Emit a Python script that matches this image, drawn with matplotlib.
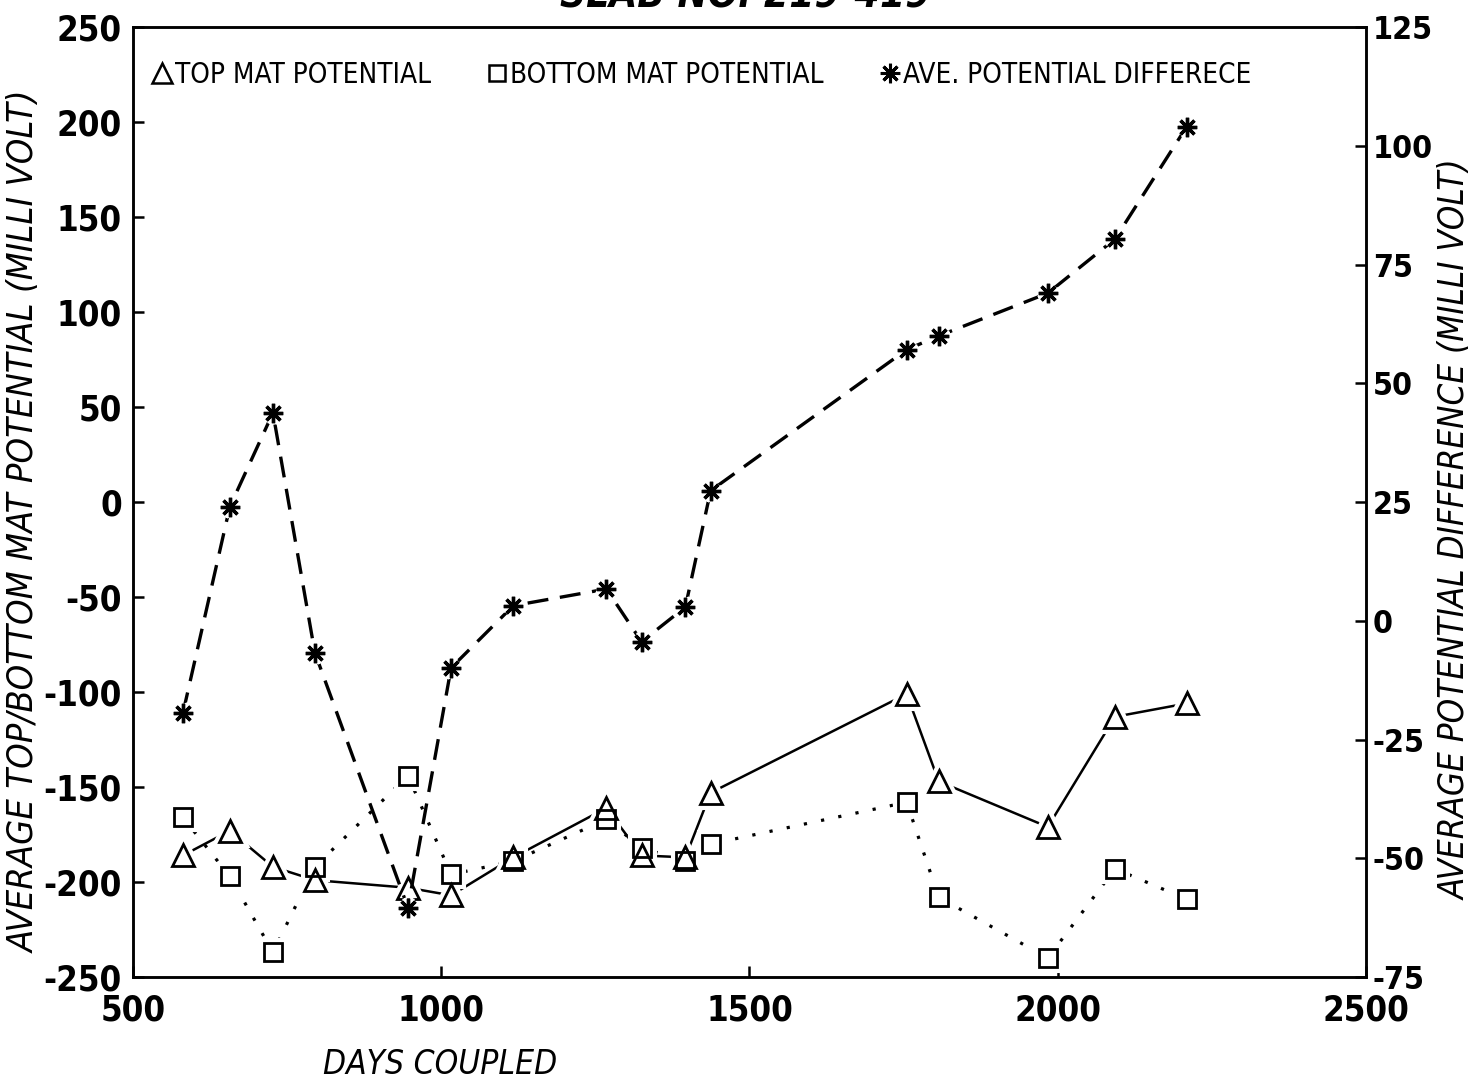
import matplotlib
matplotlib.use("Agg")
import matplotlib.pyplot as plt
from matplotlib.lines import Line2D

plt.rcParams["axes.unicode_minus"] = False
plt.rcParams["font.family"] = "DejaVu Sans"
plt.rcParams["font.stretch"] = "condensed"

# data
days = [581, 657, 727, 795, 946, 1016, 1117, 1268, 1325, 1396, 1437,
        1755, 1807, 1984, 2093, 2209]
top_mat = [-186, -173, -192, -199, -203, -207, -187, -161, -186, -187, -153,
           -101, -147, -171, -113, -106]
bottom_mat = [-166, -197, -237, -192, -144, -196, -189, -167, -182, -189, -180,
              -158, -208, -240, -193, -209]
ave_diff = [-19.4, 24.0, 43.8, -6.7, -60.4, -9.9, 3.2, 6.7, -4.4, 2.9, 27.4,
            57.1, 60.0, 69.0, 80.4, 104.0]

x_ticks = [500, 1000, 1500, 2000, 2500]
left_ticks = [-250, -200, -150, -100, -50, 0, 50, 100, 150, 200, 250]
right_ticks = [-75, -50, -25, 0, 25, 50, 75, 100, 125]

legend_labels = ["TOP MAT POTENTIAL", "BOTTOM MAT POTENTIAL",
                 "AVE. POTENTIAL DIFFERECE"]

STAR = (8, 2, 0)
TICK_FONT = {"family": "DejaVu Sans", "stretch": "condensed", "size": 25,
             "weight": "bold"}
RIGHT_TICK_FONT = dict(TICK_FONT, size=23)


def draw_series(axis, x, y, marker, ms, mew, **line_kw):
    axis.plot(x, y, color="black", zorder=2, **line_kw)
    # white halo so the line stops short of each marker
    axis.plot(x, y, ls="none", marker=marker, ms=ms, mfc="white",
              mec="white", mew=mew + 6, zorder=3)
    axis.plot(x, y, ls="none", marker=marker, ms=ms, mfc="none",
              mec="black", mew=mew, zorder=4)


fig = plt.figure(figsize=(14.73, 10.88), dpi=100)
ax = fig.add_axes([0.0903, 0.102, 0.837, 0.873])
ax2 = ax.twinx()

draw_series(ax, days, top_mat, "^", 16, 2.0, ls="-", lw=1.8)
draw_series(ax, days, bottom_mat, "s", 13, 2.0, ls=(0, (1, 4.5)), lw=2.3)
draw_series(ax2, days, ave_diff, STAR, 14, 2.4, ls=(0, (6.3, 3.5)), lw=2.4)

ax.set_xlim(500, 2500)
ax.set_ylim(-250, 250)
ax2.set_ylim(-75, 125)
ax.set_xticks(x_ticks)
ax.set_yticks(left_ticks)
ax2.set_yticks(right_ticks)
ax.set_xticklabels([str(v) for v in x_ticks], fontdict=TICK_FONT)
ax.set_yticklabels([str(v) for v in left_ticks], fontdict=TICK_FONT)
ax2.set_yticklabels([str(v) for v in right_ticks], fontdict=RIGHT_TICK_FONT)

for axis in (ax, ax2):
    for s in axis.spines.values():
        s.set_linewidth(1.8)
ax.tick_params(axis="y", direction="in", length=8, width=1.8, pad=8)
ax2.tick_params(axis="y", direction="in", length=8, width=1.8, pad=5)
ax.tick_params(axis="x", direction="in", length=8, width=1.8, pad=12)

handles = [
    Line2D([], [], ls="none", marker="^", ms=14, mfc="none", mec="black", mew=1.8),
    Line2D([], [], ls="none", marker="s", ms=12, mfc="none", mec="black", mew=1.8),
    Line2D([], [], ls="none", marker=STAR, ms=14, mec="black", mew=2.2),
]
ax2.legend(handles, legend_labels, loc="center left",
           bbox_to_anchor=(0.017, 0.95), ncol=3, frameon=False,
           handlelength=0.6, handletextpad=0.15, columnspacing=2.1,
           borderaxespad=0, borderpad=0,
           prop={"family": "DejaVu Sans", "stretch": "condensed",
                 "size": 20})

fig.text(0.017, 0.52, "AVERAGE TOP/BOTTOM MAT POTENTIAL (MILLI VOLT)",
         rotation=90, ha="center", va="center", style="italic", fontsize=26)
fig.text(0.9885, 0.513, "AVERAGE POTENTIAL DIFFERENCE (MILLI VOLT)",
         rotation=90, ha="center", va="center", style="italic", fontsize=25)
fig.text(0.299, 0.022, "DAYS COUPLED", ha="center", va="center",
         style="italic", fontsize=24)
fig.text(0.506, 1.003, "SLAB NO. 219-419", ha="center", va="center",
         style="italic", weight="bold", fontsize=29)

fig.savefig("out.png", dpi=100)
